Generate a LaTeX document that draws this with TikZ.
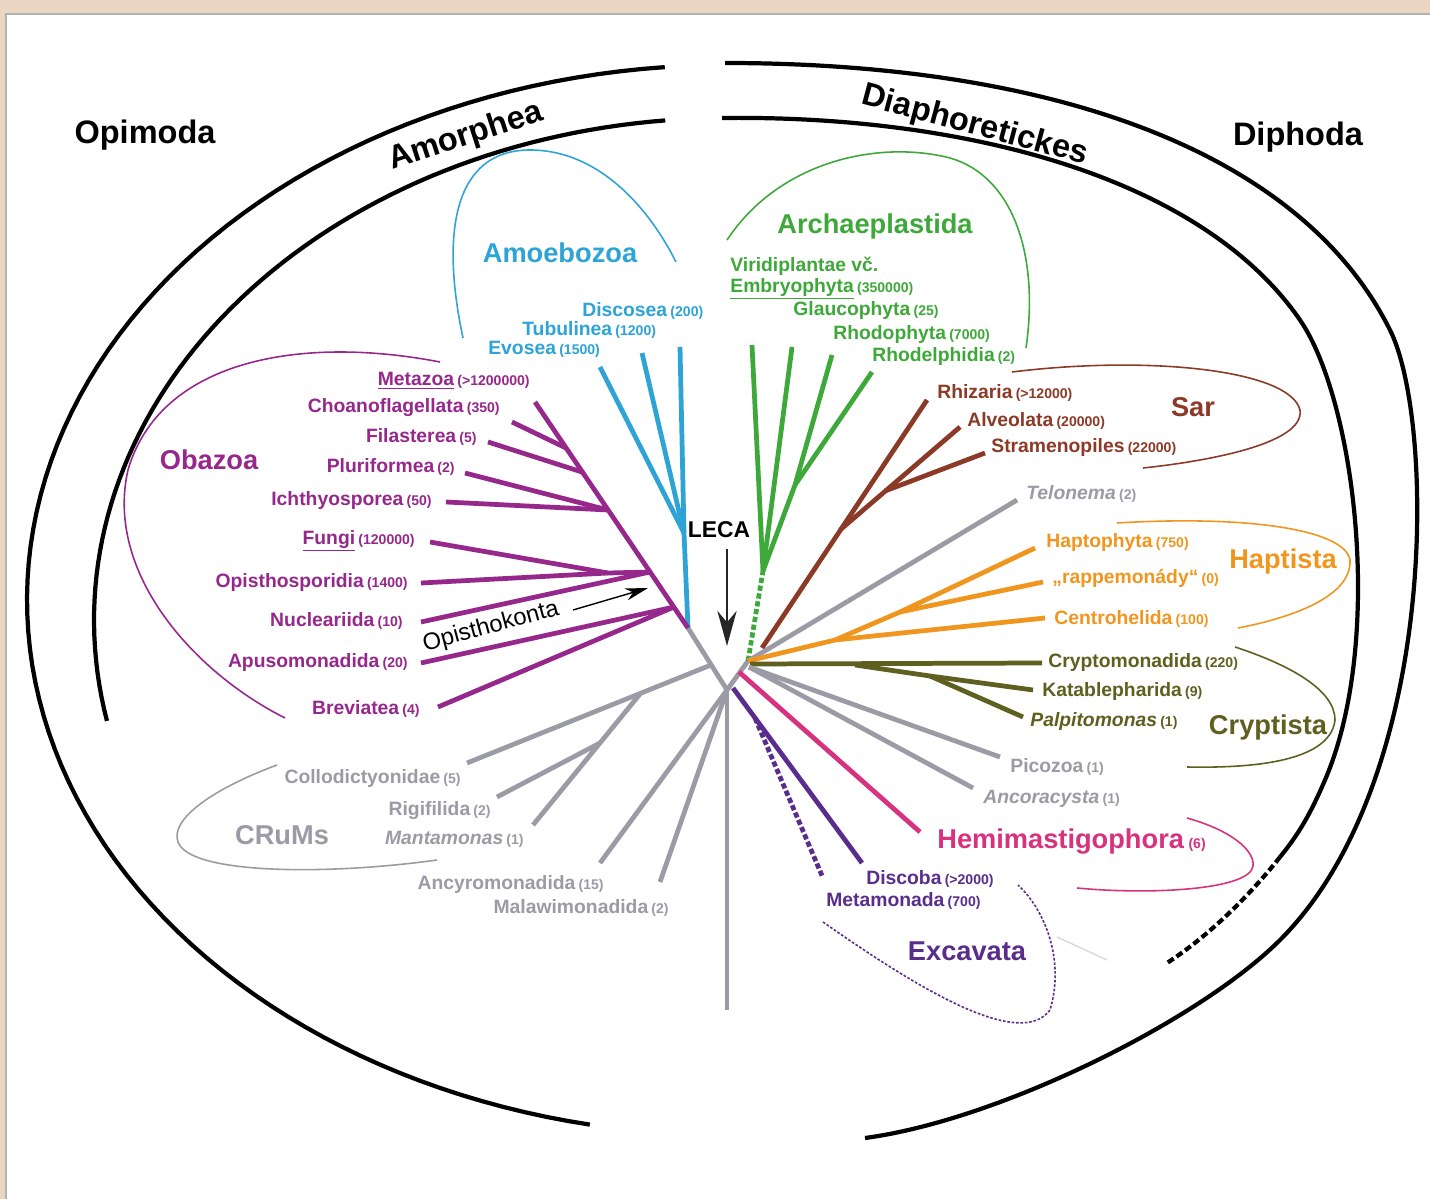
\documentclass[tikz,border=0pt]{standalone}
\usepackage{fontspec}
\setmainfont{Liberation Sans}
\definecolor{frame1}{RGB}{234, 214, 194}
\definecolor{amoebo1}{RGB}{45, 163, 214}
\definecolor{archae1}{RGB}{62, 168, 58}
\definecolor{obazoa1}{RGB}{150, 40, 140}
\definecolor{sar1}{RGB}{140, 58, 40}
\definecolor{hapt1}{RGB}{240, 150, 30}
\definecolor{crypt1}{RGB}{95, 95, 32}
\definecolor{hemi1}{RGB}{215, 50, 125}
\definecolor{excav1}{RGB}{90, 45, 140}
\definecolor{grey1}{RGB}{155, 155, 165}
\usetikzlibrary{arrows.meta, positioning}
\tikzset{
  branch/.style={line width=2.7pt},
  dashbranch/.style={line width=2.7pt, dash pattern=on 3pt off 1.5pt},
  clade/.style={line width=0.9pt},
  superarc/.style={line width=2.4pt, black},
  taxon/.style={inner sep=0pt, font=\fontsize{11}{13}\selectfont\bfseries},
  group/.style={inner sep=0pt, font=\fontsize{15.5}{18}\selectfont\bfseries},
  supergroup/.style={inner sep=0pt, font=\fontsize{18.5}{22}\selectfont\bfseries},
}
\newcommand{\nsp}[1]{\,{\fontsize{8}{9}\selectfont(#1)}}

\begin{document}
\begin{tikzpicture}[x=0.02cm, y=-0.02cm]
  \useasboundingbox (0,0) rectangle (1430,1199);
  \fill[frame1] (0,0) rectangle (1430,1199);
  \fill[white] (6,14) rectangle (1430,1199);
  \draw[black!30, line width=0.6pt] (6,1199) -- (6,14) -- (1430,14);

  % Opimoda / Diphoda, Amorphea / Diaphoretickes
  \draw[superarc] plot[domain=95.1:258.7, samples=90] ({727+700*cos(\x)}, {600-535*sin(\x)});
  \draw[superarc] plot[domain=95.6:191.6, samples=70] ({727+633*cos(\x)}, {620-502*sin(\x)});
  \draw[superarc] (725,63) .. controls (1050,63) and (1300,150) .. (1390,330)
    .. controls (1435,420) and (1440,780) .. (1280,940)
    .. controls (1200,1020) and (1000,1120) .. (865,1138);
  \draw[superarc] (722,118) .. controls (960,115) and (1200,175) .. (1300,320)
    .. controls (1355,400) and (1385,640) .. (1325,780)
    .. controls (1310,815) and (1298,835) .. (1280,857);
  \draw[superarc, dash pattern=on 4pt off 2pt] (1280,857) .. controls (1250,895) and (1210,935) .. (1167,963);
  \node[supergroup] (opimoda) at (145,135) {Opimoda};
  \node[supergroup] (diphoda) at (1298,137) {Diphoda};
  \node[supergroup, rotate=18] (amorphea) at (466,137) {Amorphea};
  \node[supergroup, rotate=-15] (diaphor) at (975,126) {Diaphoretickes};

  % root
  \coordinate (root) at (727,690);
  \coordinate (amJ) at (688,628);
  \coordinate (diJ) at (748,661);
  \coordinate (trunk) at (727,1010);
  \draw[branch, grey1] (amJ) -- (root) -- (diJ);
  \draw[branch, grey1] (root) -- (trunk);
  \node[inner sep=0pt, font=\fontsize{13}{15}\selectfont\bfseries] (leca) at (719,530) {LECA};
  \coordinate (lecaTip) at (727,646);
  \draw[line width=0.8pt, black!85, -{Stealth[length=20pt, width=11pt]}, shorten <=6pt] (leca.south -| lecaTip) -- (lecaTip);

  % Amoebozoa
  \coordinate (amoJ) at (684,533);
  \coordinate (tDisc) at (680,347);
  \coordinate (tTubu) at (642,353);
  \coordinate (tEvos) at (600,367);
  \draw[branch, amoebo1] (tDisc) -- (amoJ) -- (amJ);
  \draw[branch, amoebo1] (tTubu) -- (amoJ);
  \draw[branch, amoebo1] (tEvos) -- (amoJ);
  \node[taxon, amoebo1, anchor=west] (lDisc) at (582,311) {Discosea\nsp{200}};
  \node[taxon, amoebo1, anchor=west] (lTubu) at (522,330) {Tubulinea\nsp{1200}};
  \node[taxon, amoebo1, anchor=west] (lEvos) at (488,349) {Evosea\nsp{1500}};
  \draw[clade, amoebo1] (463,338) .. controls (440,230) and (455,150) .. (530,150) .. controls (600,150) and (650,210) .. (676,262);
  \node[group, amoebo1] (amoebozoa) at (560,253) {Amoebozoa};

  % Archaeplastida
  \coordinate (grnJ) at (763,571);
  \coordinate (rhJ) at (795,485);
  \coordinate (tViri) at (752,345);
  \coordinate (tGlau) at (792,347);
  \coordinate (tRhod) at (832,355);
  \coordinate (tRhdl) at (872,372);
  \draw[dashbranch, archae1] (diJ) -- (grnJ);
  \draw[branch, archae1] (tViri) -- (grnJ);
  \draw[branch, archae1] (tGlau) -- (grnJ);
  \draw[branch, archae1] (tRhod) -- (rhJ) -- (grnJ);
  \draw[branch, archae1] (tRhdl) -- (rhJ);
  \node[taxon, archae1, anchor=west] (lViri) at (730,266) {Viridiplantae vč.};
  \node[taxon, archae1, anchor=west] (lEmbr) at (730,289) {\underline{Embryophyta}\nsp{350000}};
  \node[taxon, archae1, anchor=west] (lGlau) at (793,311) {Glaucophyta\nsp{25}};
  \node[taxon, archae1, anchor=west] (lRhod) at (833,335) {Rhodophyta\nsp{7000}};
  \node[taxon, archae1, anchor=west] (lRhdl) at (872,357) {Rhodelphidia\nsp{2}};
  \draw[clade, archae1] (727,240) .. controls (780,160) and (880,140) .. (950,158) .. controls (1010,175) and (1040,250) .. (1026,348);
  \node[group, archae1] (archaepl) at (875,226) {Archaeplastida};

  % Obazoa
  \coordinate (tMeta) at (535,402);
  \coordinate (choJ) at (566,448);
  \coordinate (filJ) at (582,472);
  \coordinate (ichJ) at (608,510);
  \coordinate (holJ) at (650,572);
  \coordinate (fuJ) at (608,573);
  \coordinate (apuJ) at (674,607);
  \coordinate (tChoa) at (512,422);
  \coordinate (tFila) at (488,442);
  \coordinate (tPlur) at (465,473);
  \coordinate (tIcht) at (446,502);
  \coordinate (tFung) at (430,542);
  \coordinate (tOpis) at (421,583);
  \coordinate (tNucl) at (421,622);
  \coordinate (tApus) at (421,663);
  \coordinate (tBrev) at (438,707);
  \draw[branch, obazoa1] (tMeta) -- (amJ);
  \draw[branch, obazoa1] (tChoa) -- (choJ);
  \draw[branch, obazoa1] (tFila) -- (filJ);
  \draw[branch, obazoa1] (tPlur) -- (ichJ);
  \draw[branch, obazoa1] (tIcht) -- (ichJ);
  \draw[branch, obazoa1] (tFung) -- (fuJ) -- (holJ);
  \draw[branch, obazoa1] (tOpis) -- (fuJ);
  \draw[branch, obazoa1] (tNucl) -- (holJ);
  \draw[branch, obazoa1] (tApus) -- (apuJ);
  \draw[branch, obazoa1] (tBrev) -- (apuJ);
  \node[taxon, obazoa1, anchor=east] (lMeta) at (530,381) {\underline{Metazoa}\nsp{>1200000}};
  \node[taxon, obazoa1, anchor=east] (lChoa) at (500,408) {Choanoflagellata\nsp{350}};
  \node[taxon, obazoa1, anchor=east] (lFila) at (477,437) {Filasterea\nsp{5}};
  \node[taxon, obazoa1, anchor=east] (lPlur) at (455,467) {Pluriformea\nsp{2}};
  \node[taxon, obazoa1, anchor=east] (lIcht) at (432,501) {Ichthyosporea\nsp{50}};
  \node[taxon, obazoa1, anchor=east] (lFung) at (415,541) {\underline{Fungi}\nsp{120000}};
  \node[taxon, obazoa1, anchor=east] (lOpis) at (408,583) {Opisthosporidia\nsp{1400}};
  \node[taxon, obazoa1, anchor=east] (lNucl) at (403,621) {Nucleariida\nsp{10}};
  \node[taxon, obazoa1, anchor=east] (lApus) at (408,662) {Apusomonadida\nsp{20}};
  \node[taxon, obazoa1, anchor=east] (lBrev) at (420,709) {Breviatea\nsp{4}};
  \draw[clade, obazoa1] (440,362) .. controls (300,335) and (160,360) .. (128,470) .. controls (105,570) and (190,670) .. (285,718);
  \node[group, obazoa1] (obazoa) at (209,460) {Obazoa};
  \node[inner sep=0pt, font=\fontsize{13.5}{16}\selectfont, rotate=15] (opisth) at (491,627) {Opisthokonta};
  \coordinate (opA) at (573,610);
  \coordinate (opB) at (648,588);
  \draw[line width=0.8pt, -{Stealth[length=13pt, width=7pt]}] (opA) -- (opB);

  % CRuMs, Ancyromonadida, Malawimonadida
  \coordinate (crJ) at (711,665);
  \coordinate (manJ) at (640,694);
  \coordinate (rigJ) at (600,743);
  \coordinate (tColl) at (467,763);
  \coordinate (tRigi) at (497,797);
  \coordinate (tMant) at (533,825);
  \coordinate (tAncy) at (600,863);
  \coordinate (tMala) at (660,882);
  \draw[branch, grey1] (tColl) -- (crJ);
  \draw[branch, grey1] (tMant) -- (manJ);
  \draw[branch, grey1] (tRigi) -- (rigJ);
  \draw[branch, grey1] (tAncy) -- (root);
  \draw[branch, grey1] (tMala) -- (root);
  \node[taxon, grey1, anchor=east] (lColl) at (461,778) {Collodictyonidae\nsp{5}};
  \node[taxon, grey1, anchor=east] (lRigi) at (491,811) {Rigifilida\nsp{2}};
  \node[taxon, grey1, anchor=east] (lMant) at (524,839) {\textit{Mantamonas}\nsp{1}};
  \node[taxon, grey1, anchor=east] (lAncy) at (604,884) {Ancyromonadida\nsp{15}};
  \node[taxon, grey1, anchor=east] (lMala) at (669,908) {Malawimonadida\nsp{2}};
  \draw[clade, grey1] (277,765) .. controls (210,790) and (170,820) .. (178,842) .. controls (190,875) and (330,875) .. (437,860);
  \node[group, grey1] (crums) at (282,835) {CRuMs};

  % Sar
  \coordinate (sarB) at (762,648);
  \coordinate (alvJ) at (840,530);
  \coordinate (strJ) at (885,491);
  \coordinate (tRhiz) at (927,400);
  \coordinate (tAlve) at (960,427);
  \coordinate (tStra) at (985,453);
  \draw[branch, sar1] (tRhiz) -- (sarB);
  \draw[branch, sar1] (tAlve) -- (alvJ);
  \draw[branch, sar1] (tStra) -- (strJ);
  \node[taxon, sar1, anchor=west] (lRhiz) at (937,393) {Rhizaria\nsp{>12000}};
  \node[taxon, sar1, anchor=west] (lAlve) at (967,421) {Alveolata\nsp{20000}};
  \node[taxon, sar1, anchor=west] (lStra) at (991,448) {Stramenopiles\nsp{22000}};
  \draw[clade, sar1] (1012,372) .. controls (1150,355) and (1290,370) .. (1300,410) .. controls (1305,445) and (1200,462) .. (1143,468);
  \node[group, sar1] (sar) at (1193,407) {Sar};

  % Telonema
  \coordinate (tTelo) at (1017,500);
  \draw[branch, grey1] (diJ) -- (tTelo);
  \node[taxon, grey1, anchor=west] (lTelo) at (1026,494) {\textit{Telonema}\nsp{2}};

  % Haptista
  \coordinate (hapJ) at (835,640);
  \coordinate (hptJ) at (900,612);
  \coordinate (tHapt) at (1035,548);
  \coordinate (tRapp) at (1043,582);
  \coordinate (tCent) at (1045,618);
  \draw[branch, hapt1] (diJ) -- (hapJ) -- (tCent);
  \draw[branch, hapt1] (hapJ) -- (hptJ) -- (tHapt);
  \draw[branch, hapt1] (hptJ) -- (tRapp);
  \node[taxon, hapt1, anchor=west] (lHapt) at (1046,543) {Haptophyta\nsp{750}};
  \node[taxon, hapt1, anchor=west] (lRapp) at (1052,578) {„rappemonády“\nsp{0}};
  \node[taxon, hapt1, anchor=west] (lCent) at (1054,619) {Centrohelida\nsp{100}};
  \draw[clade, hapt1] (1117,523) .. controls (1250,515) and (1345,530) .. (1350,560) .. controls (1352,600) and (1280,620) .. (1238,628);
  \node[group, hapt1] (haptista) at (1283,561) {Haptista};

  % Cryptista
  \coordinate (crpB) at (750,664);
  \coordinate (katJ) at (855,665);
  \coordinate (palJ) at (930,676);
  \coordinate (tCrym) at (1042,663);
  \coordinate (tKata) at (1033,690);
  \coordinate (tPalp) at (1023,717);
  \draw[branch, crypt1] (crpB) -- (tCrym);
  \draw[branch, crypt1] (katJ) -- (palJ) -- (tKata);
  \draw[branch, crypt1] (palJ) -- (tPalp);
  \node[taxon, crypt1, anchor=west] (lCrym) at (1048,662) {Cryptomonadida\nsp{220}};
  \node[taxon, crypt1, anchor=west] (lKata) at (1042,692) {Katablepharida\nsp{9}};
  \node[taxon, crypt1, anchor=west] (lPalp) at (1030,721) {\textit{Palpitomonas}\nsp{1}};
  \draw[clade, crypt1] (1235,647) .. controls (1290,665) and (1335,690) .. (1335,720) .. controls (1330,765) and (1240,768) .. (1187,767);
  \node[group, crypt1] (cryptista) at (1268,727) {Cryptista};

  % Picozoa, Ancoracysta
  \coordinate (picB) at (749,667);
  \coordinate (tPico) at (1000,757);
  \coordinate (tAnco) at (973,788);
  \draw[branch, grey1] (picB) -- (tPico);
  \draw[branch, grey1] (picB) -- (tAnco);
  \node[taxon, grey1, anchor=west] (lPico) at (1010,767) {Picozoa\nsp{1}};
  \node[taxon, grey1, anchor=west] (lAnco) at (983,799) {\textit{Ancoracysta}\nsp{1}};

  % Hemimastigophora
  \coordinate (hemB) at (739,672);
  \coordinate (tHemi) at (920,832);
  \draw[branch, hemi1] (hemB) -- (tHemi);
  \node[group, hemi1, anchor=west] (lHemi) at (937,842) {Hemimastigophora\nsp{6}};
  \draw[clade, hemi1] (1187,818) .. controls (1230,830) and (1255,850) .. (1253,866) .. controls (1250,890) and (1150,895) .. (1077,888);

  % Excavata
  \coordinate (excB) at (733,688);
  \coordinate (metJ) at (755,718);
  \coordinate (tDisb) at (862,863);
  \coordinate (tMetm) at (823,878);
  \draw[branch, excav1] (excB) -- (tDisb);
  \draw[dashbranch, excav1] (metJ) -- (tMetm);
  \node[taxon, excav1, anchor=west] (lDisb) at (866,879) {Discoba\nsp{>2000}};
  \node[taxon, excav1, anchor=west] (lMetm) at (826,901) {Metamonada\nsp{700}};
  \draw[clade, excav1, dash pattern=on 1.5pt off 1pt] (823,922) .. controls (920,990) and (1020,1050) .. (1050,1010) .. controls (1065,960) and (1045,910) .. (1018,885);
  \node[group, excav1] (excavata) at (967,951) {Excavata};
  \draw[black!15, line width=0.8pt] (1057,937) -- (1107,960);
\end{tikzpicture}
\end{document}
